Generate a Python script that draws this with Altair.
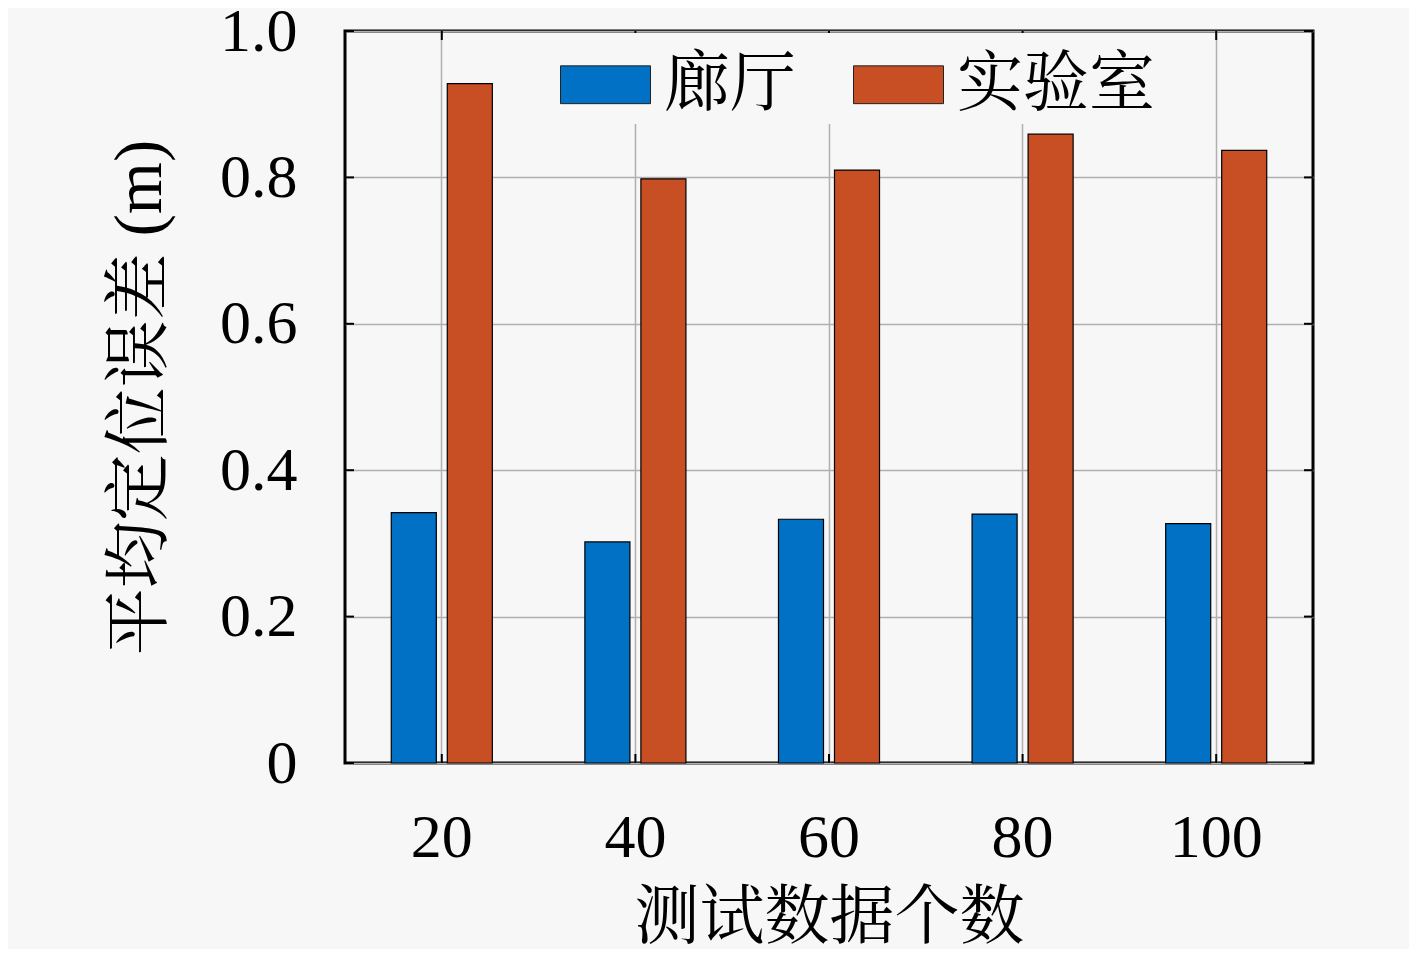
import altair as alt
import pandas as pd

counts = ["20", "40", "60", "80", "100"]
series_names = ["廊厅", "实验室"]
hall = [0.342, 0.302, 0.333, 0.340, 0.327]
lab = [0.928, 0.798, 0.810, 0.859, 0.837]
colors = ["#0071C5", "#C84E24"]
y_ticks = [0, 0.2, 0.4, 0.6, 0.8, 1.0]

rows = []
for c, h, l in zip(counts, hall, lab):
    rows.append({"n": c, "s": series_names[0], "v": h})
    rows.append({"n": c, "s": series_names[1], "v": l})
df = pd.DataFrame(rows)
ytick_df = pd.DataFrame({"v": y_ticks})
xtick_df = pd.DataFrame({"n": counts})

FONT = "Liberation Serif, Noto Serif CJK SC, Noto Sans CJK SC"
BG = "#f7f7f7"
W, H = 968, 732
TICK = 9

xscale = alt.Scale(paddingInner=0, paddingOuter=0)
yscale = alt.Scale(domain=[0, 1], nice=False)

x_axis = alt.Axis(title="测试数据个数", labelAngle=0, labelFontSize=62,
                  labelPadding=44, tickSize=0, domain=False,
                  grid=True, gridColor="#b0b0b0", gridWidth=1.5,
                  titleFontSize=65, titleFontWeight="normal",
                  titleY=154, titleBaseline="middle")
y_axis = alt.Axis(title="平均定位误差 (m)", values=y_ticks,
                  labelExpr="datum.value == 0 ? '0' : format(datum.value, '.1f')",
                  labelFontSize=62, labelPadding=48, tickSize=0, domain=False,
                  grid=True, gridColor="#b0b0b0", gridWidth=1.5,
                  titleFontSize=67, titleFontWeight="normal",
                  titleX=-205, titleY=366, titleAngle=270,
                  titleBaseline="middle", titleAlign="center")

bars = alt.Chart(df).mark_bar(stroke="black", strokeWidth=1.2).encode(
    x=alt.X("n:N", sort=counts, scale=xscale, axis=x_axis),
    xOffset=alt.XOffset("s:N", sort=series_names,
                        scale=alt.Scale(paddingInner=0.196, paddingOuter=0.826)),
    y=alt.Y("v:Q", scale=yscale, axis=y_axis),
    color=alt.Color("s:N", sort=series_names,
                    scale=alt.Scale(domain=series_names, range=colors),
                    legend=alt.Legend(title=None, orient="none", legendX=209, legendY=2,
                                      direction="horizontal",
                                      symbolType="M-1,-0.42L1,-0.42L1,0.42L-1,0.42Z",
                                      symbolSize=8100, symbolStrokeColor="#222222",
                                      symbolStrokeWidth=1, symbolOpacity=1,
                                      labelFontSize=66, labelOffset=13, labelLimit=500,
                                      columnPadding=55, padding=6,
                                      fillColor=BG)),
)

left_ticks = alt.Chart(ytick_df).mark_rule(color="black", strokeWidth=2).encode(
    y=alt.Y("v:Q", scale=yscale, axis=y_axis), x=alt.value(0), x2=alt.value(TICK))
right_ticks = alt.Chart(ytick_df).mark_rule(color="black", strokeWidth=2).encode(
    y=alt.Y("v:Q", scale=yscale, axis=y_axis), x=alt.value(W - TICK), x2=alt.value(W))
bottom_ticks = alt.Chart(xtick_df).mark_rule(color="black", strokeWidth=2).encode(
    x=alt.X("n:N", sort=counts, scale=xscale, axis=x_axis), y=alt.value(H - TICK), y2=alt.value(H))
top_ticks = alt.Chart(xtick_df).mark_rule(color="black", strokeWidth=2).encode(
    x=alt.X("n:N", sort=counts, scale=xscale, axis=x_axis), y=alt.value(0), y2=alt.value(TICK))

chart = alt.layer(bars, left_ticks, right_ticks, bottom_ticks, top_ticks).properties(
    width=W, height=H,
    autosize=alt.AutoSizeParams(type="none"),
    padding={"left": 337, "top": 23, "right": 96, "bottom": 186},
    background=BG,
).configure(
    font=FONT,
    view=alt.ViewConfig(stroke="black", strokeWidth=3, fill=BG),
    axis=alt.AxisConfig(labelFont=FONT, titleFont=FONT, labelColor="black", titleColor="black"),
    legend=alt.LegendConfig(labelFont=FONT, labelColor="black"),
)

chart.save("out.html", embed_options={"renderer": "svg", "actions": False})
